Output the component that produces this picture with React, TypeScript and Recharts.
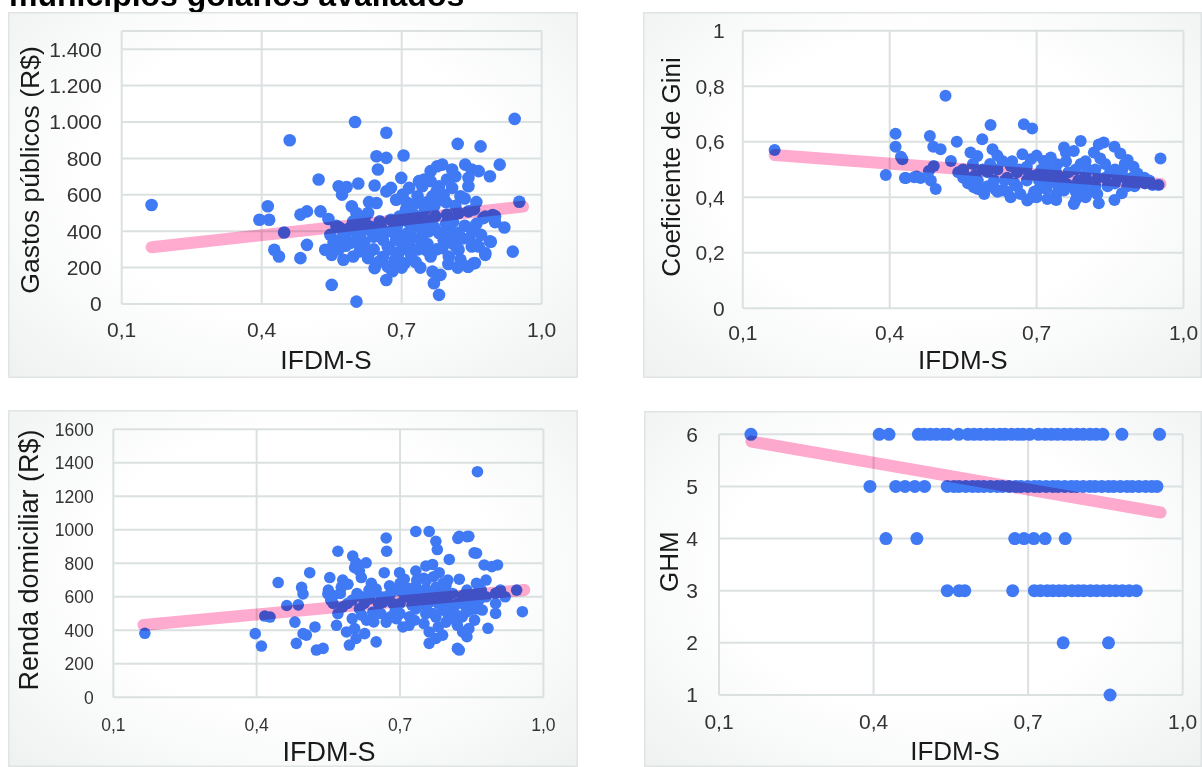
import React from "react";
import { ScatterChart, Scatter, XAxis, YAxis, CartesianGrid } from "recharts";

const FONT = "'Liberation Sans', Arial, Helvetica, sans-serif";
const DOT = "#4079f4";
const TREND = "#ffabcf";
const GRID = "#dbe1e1";

const title = "municípios goianos avaliados";
const xTitle = "IFDM-S";
const xTicks = [0.1, 0.4, 0.7, 1.0];

// Gastos públicos (R$) x IFDM-S
const gastosTicks = [0, 200, 400, 600, 800, 1000, 1200, 1400];
const gastosPontos: [number, number][] = [
  [0.164, 544], [0.46, 900], [0.6, 1000], [0.667, 941], [0.942, 1017], [0.952, 562], [0.938, 288],
  [0.82, 880], [0.869, 866], [0.91, 766], [0.646, 812], [0.667, 803], [0.704, 816], [0.649, 739],
  [0.522, 684], [0.565, 647], [0.582, 643], [0.572, 601], [0.607, 662], [0.642, 651], [0.667, 619],
  [0.677, 638], [0.699, 693], [0.702, 601], [0.716, 638], [0.737, 675], [0.762, 730], [0.776, 757],
  [0.787, 766], [0.808, 739], [0.836, 766], [0.85, 739], [0.865, 730], [0.889, 702], [0.843, 693],
  [0.808, 638], [0.826, 592], [0.762, 675], [0.744, 647], [0.78, 647], [0.766, 592], [0.78, 573],
  [0.73, 555], [0.413, 537], [0.395, 463], [0.416, 463], [0.483, 491], [0.497, 509], [0.526, 509],
  [0.543, 467], [0.448, 393], [0.593, 537], [0.603, 500], [0.646, 555], [0.628, 500], [0.596, 454],
  [0.568, 417], [0.547, 380], [0.427, 298], [0.437, 261], [0.497, 325], [0.483, 252], [0.536, 298],
  [0.554, 335], [0.568, 353], [0.589, 335], [0.55, 270], [0.575, 243], [0.596, 261], [0.61, 289],
  [0.628, 252], [0.642, 197], [0.67, 206], [0.667, 132], [0.55, 105], [0.603, 13], [0.66, 353],
  [0.67, 316], [0.688, 353], [0.692, 270], [0.706, 224], [0.716, 316], [0.723, 362], [0.713, 390],
  [0.741, 353], [0.752, 298], [0.762, 261], [0.766, 178], [0.783, 160], [0.769, 114], [0.78, 50],
  [0.787, 307], [0.801, 261], [0.808, 335], [0.822, 298], [0.826, 243], [0.843, 206], [0.854, 224],
  [0.85, 316], [0.865, 316], [0.879, 270], [0.889, 344], [0.85, 408], [0.875, 472], [0.9, 482],
  [0.822, 500], [0.843, 509], [0.797, 491], [0.772, 482], [0.751, 463], [0.723, 500], [0.702, 463],
  [0.677, 463], [0.653, 454], [0.631, 426], [0.617, 445], [0.677, 399], [0.695, 380], [0.758, 399],
  [0.78, 390], [0.801, 417], [0.822, 390], [0.734, 592], [0.748, 684], [0.797, 684], [0.815, 702],
  [0.843, 647], [0.688, 573], [0.709, 518], [0.86, 324], [0.857, 225], [0.842, 205], [0.891, 342],
  [0.879, 280], [0.853, 407], [0.879, 480], [0.895, 489], [0.58, 380], [0.6, 400], [0.62, 340],
  [0.64, 300], [0.66, 260], [0.7, 300], [0.72, 270], [0.74, 420], [0.76, 440], [0.79, 350],
  [0.81, 450], [0.83, 360], [0.69, 430], [0.71, 560], [0.75, 520], [0.77, 540], [0.79, 600],
  [0.61, 380], [0.565, 300], [0.62, 470], [0.73, 230], [0.68, 180], [0.63, 560], [0.86, 560],
  [0.9, 450], [0.92, 420], [0.56, 430], [0.59, 420], [0.615, 310], [0.635, 400], [0.655, 430],
  [0.675, 300], [0.685, 240], [0.705, 340], [0.725, 420], [0.735, 300], [0.745, 380], [0.755, 330],
  [0.77, 420], [0.775, 300], [0.795, 440], [0.805, 380], [0.815, 320], [0.835, 430], [0.845, 360],
  [0.86, 440], [0.87, 380], [0.695, 480], [0.715, 450], [0.735, 480], [0.755, 560], [0.775, 620],
  [0.795, 560], [0.815, 540], [0.835, 580], [0.855, 520], [0.63, 280], [0.65, 230], [0.7, 200],
  [0.74, 200], [0.8, 220], [0.82, 200], [0.58, 320], [0.6, 340], [0.64, 370], [0.66, 400], [0.62, 410],
];
const gastosTrend: [number, number][] = [[0.164, 312], [0.96, 535]];

// Coeficiente de Gini x IFDM-S
const giniTicks = [0, 0.2, 0.4, 0.6, 0.8, 1];
const giniPontos: [number, number][] = [
  [0.165, 0.57], [0.514, 0.766], [0.412, 0.629], [0.412, 0.582], [0.423, 0.546], [0.426, 0.537],
  [0.392, 0.48], [0.433, 0.469], [0.45, 0.472], [0.463, 0.469], [0.482, 0.621], [0.489, 0.582],
  [0.504, 0.573], [0.49, 0.513], [0.484, 0.46], [0.494, 0.43], [0.48, 0.495], [0.537, 0.6],
  [0.525, 0.531], [0.565, 0.561], [0.579, 0.549], [0.589, 0.609], [0.606, 0.66], [0.61, 0.573],
  [0.63, 0.531], [0.674, 0.663], [0.691, 0.648], [0.671, 0.555], [0.558, 0.472], [0.572, 0.436],
  [0.593, 0.412], [0.613, 0.46], [0.627, 0.424], [0.647, 0.4], [0.667, 0.412], [0.681, 0.388],
  [0.701, 0.424], [0.722, 0.394], [0.742, 0.46], [0.756, 0.424], [0.776, 0.376], [0.79, 0.603],
  [0.837, 0.597], [0.756, 0.579], [0.776, 0.567], [0.729, 0.543], [0.817, 0.561], [0.803, 0.46],
  [0.824, 0.412], [0.715, 0.531], [0.688, 0.537], [0.647, 0.513], [0.742, 0.519], [0.953, 0.54],
  [0.859, 0.582], [0.871, 0.558], [0.886, 0.534], [0.898, 0.51], [0.906, 0.486], [0.921, 0.45],
  [0.937, 0.444], [0.949, 0.444], [0.874, 0.414], [0.859, 0.39], [0.827, 0.378], [0.827, 0.59],
  [0.455, 0.475], [0.431, 0.469], [0.55, 0.5], [0.57, 0.52], [0.6, 0.49], [0.62, 0.5], [0.64, 0.47],
  [0.66, 0.49], [0.68, 0.46], [0.7, 0.48], [0.72, 0.47], [0.74, 0.49], [0.76, 0.45], [0.78, 0.5],
  [0.8, 0.48], [0.82, 0.44], [0.84, 0.47], [0.86, 0.45], [0.88, 0.47], [0.9, 0.44], [0.78, 0.42],
  [0.8, 0.4], [0.7, 0.4], [0.72, 0.43], [0.66, 0.44], [0.6, 0.44], [0.58, 0.46], [0.62, 0.55],
  [0.7, 0.55], [0.76, 0.53], [0.8, 0.53], [0.84, 0.52], [0.86, 0.5], [0.74, 0.41], [0.64, 0.42],
  [0.54, 0.49], [0.68, 0.51], [0.76, 0.56], [0.88, 0.52], [0.92, 0.47], [0.82, 0.5], [0.72, 0.51],
  [0.56, 0.45], [0.575, 0.48], [0.59, 0.5], [0.605, 0.52], [0.615, 0.43], [0.635, 0.46], [0.65, 0.53],
  [0.655, 0.45], [0.665, 0.5], [0.685, 0.48], [0.695, 0.42], [0.705, 0.46], [0.71, 0.5], [0.725, 0.45],
  [0.735, 0.5], [0.745, 0.43], [0.75, 0.47], [0.765, 0.49], [0.77, 0.44], [0.785, 0.46], [0.79, 0.52],
  [0.795, 0.43], [0.805, 0.5], [0.81, 0.42], [0.825, 0.47], [0.83, 0.54], [0.845, 0.44], [0.85, 0.49],
  [0.865, 0.47], [0.875, 0.5], [0.885, 0.44], [0.895, 0.47], [0.91, 0.46], [0.93, 0.46], [0.78, 0.39],
  [0.74, 0.39], [0.69, 0.4], [0.62, 0.42], [0.58, 0.43], [0.55, 0.47],
];
const giniTrend: [number, number][] = [[0.165, 0.552], [0.953, 0.448]];

// Renda domiciliar (R$) x IFDM-S
const rendaTicks = [0, 200, 400, 600, 800, 1000, 1200, 1400, 1600];
const rendaPontos: [number, number][] = [
  [0.166, 382], [0.862, 1347], [0.84, 959], [0.821, 949], [0.86, 860], [0.876, 790], [0.892, 780],
  [0.904, 790], [0.88, 700], [0.9, 621], [0.92, 600], [0.944, 640], [0.956, 511], [0.9, 501],
  [0.884, 412], [0.824, 282], [0.84, 362], [0.856, 461], [0.872, 521], [0.445, 685], [0.397, 380],
  [0.41, 306], [0.417, 485], [0.428, 479], [0.463, 548], [0.487, 552], [0.494, 656], [0.497, 617],
  [0.511, 744], [0.553, 715], [0.48, 449], [0.497, 380], [0.522, 420], [0.483, 322], [0.504, 371],
  [0.525, 282], [0.539, 292], [0.549, 617], [0.56, 607], [0.577, 656], [0.567, 430], [0.57, 872],
  [0.601, 843], [0.608, 803], [0.615, 754], [0.629, 803], [0.605, 774], [0.619, 715], [0.591, 675],
  [0.588, 390], [0.605, 410], [0.594, 312], [0.608, 351], [0.626, 380], [0.65, 331], [0.671, 951],
  [0.672, 872], [0.667, 744], [0.65, 646], [0.678, 666], [0.636, 587], [0.664, 567], [0.615, 528],
  [0.643, 508], [0.671, 449], [0.692, 469], [0.706, 420], [0.719, 430], [0.699, 744], [0.709, 705],
  [0.733, 990], [0.761, 990], [0.775, 931], [0.778, 882], [0.733, 754], [0.754, 784], [0.768, 793],
  [0.782, 744], [0.803, 823], [0.824, 961], [0.844, 961], [0.855, 862], [0.824, 705], [0.796, 666],
  [0.775, 656], [0.733, 666], [0.754, 646], [0.706, 626], [0.723, 587], [0.761, 567], [0.789, 587],
  [0.81, 548], [0.831, 607], [0.851, 587], [0.733, 528], [0.754, 499], [0.775, 479], [0.796, 449],
  [0.817, 459], [0.761, 390], [0.775, 351], [0.789, 371], [0.761, 322], [0.82, 292], [0.831, 390],
  [0.844, 410], [0.838, 508], [0.858, 528], [0.56, 560], [0.58, 540], [0.6, 580], [0.62, 600],
  [0.64, 620], [0.66, 600], [0.68, 620], [0.7, 560], [0.72, 650], [0.74, 610], [0.76, 620],
  [0.78, 560], [0.8, 600], [0.82, 560], [0.84, 640], [0.86, 620], [0.88, 600], [0.57, 500],
  [0.6, 470], [0.63, 460], [0.66, 500], [0.69, 520], [0.72, 480], [0.75, 440], [0.78, 420],
  [0.8, 500], [0.82, 430], [0.55, 640], [0.58, 700], [0.64, 680], [0.7, 680], [0.75, 710],
  [0.8, 700], [0.86, 680], [0.9, 560], [0.91, 640], [0.555, 580], [0.575, 620], [0.59, 560],
  [0.61, 620], [0.625, 560], [0.635, 640], [0.655, 560], [0.67, 600], [0.685, 560], [0.695, 640],
  [0.71, 600], [0.725, 550], [0.735, 620], [0.745, 580], [0.755, 540], [0.765, 600], [0.785, 620],
  [0.795, 560], [0.81, 620], [0.815, 500], [0.83, 560], [0.845, 520], [0.85, 600], [0.865, 580],
  [0.87, 640], [0.735, 700], [0.755, 700], [0.77, 720], [0.79, 680], [0.62, 490], [0.645, 450],
  [0.68, 480], [0.7, 500], [0.73, 460], [0.77, 500], [0.79, 520], [0.81, 470], [0.83, 480],
  [0.85, 560], [0.72, 600],
];
const rendaTrend: [number, number][] = [[0.163, 432], [0.96, 641]];

// GHM x IFDM-S (one list of IFDM-S values per GHM level)
const ghmTicks = [1, 2, 3, 4, 5, 6];
const ghm6 = [0.162, 0.411, 0.43, 0.487, 0.498, 0.51, 0.522, 0.535, 0.545, 0.565, 0.583, 0.595, 0.607,
  0.62, 0.632, 0.645, 0.655, 0.668, 0.68, 0.69, 0.703, 0.72, 0.733, 0.745, 0.757, 0.77, 0.782, 0.795,
  0.807, 0.82, 0.832, 0.845, 0.882, 0.955];
const ghm5 = [0.393, 0.443, 0.461, 0.48, 0.499, 0.543, 0.556, 0.566, 0.579, 0.592, 0.603, 0.614, 0.627,
  0.64, 0.65, 0.663, 0.676, 0.686, 0.699, 0.712, 0.722, 0.735, 0.748, 0.758, 0.771, 0.784, 0.794,
  0.807, 0.82, 0.83, 0.843, 0.856, 0.866, 0.879, 0.892, 0.902, 0.915, 0.928, 0.94, 0.95];
const ghm4 = [0.424, 0.484, 0.674, 0.692, 0.711, 0.733, 0.772];
const ghm3 = [0.543, 0.566, 0.577, 0.67, 0.712, 0.724, 0.737, 0.748, 0.76, 0.771, 0.785, 0.797, 0.808,
  0.821, 0.833, 0.846, 0.858, 0.87, 0.883, 0.896, 0.91];
const ghm2 = [0.768, 0.856];
const ghm1 = [0.859];
const ghmTrend: [number, number][] = [[0.163, 5.86], [0.957, 4.5]];

const toXY = (pts: [number, number][]) => pts.map(([x, y]) => ({ x, y }));
const ghmPontos: [number, number][] = [
  ...ghm6.map((x) => [x, 6] as [number, number]),
  ...ghm5.map((x) => [x, 5] as [number, number]),
  ...ghm4.map((x) => [x, 4] as [number, number]),
  ...ghm3.map((x) => [x, 3] as [number, number]),
  ...ghm2.map((x) => [x, 2] as [number, number]),
  ...ghm1.map((x) => [x, 1] as [number, number]),
];

const fmtDec = (v: number) => v.toFixed(1).replace(".", ",");
const fmtThousand = (v: number) =>
  v >= 1000 ? `${Math.floor(v / 1000)}.${String(v % 1000).padStart(3, "0")}` : String(v);
const fmtGini = (v: number) => (v === 0 ? "0" : v === 1 ? "1" : fmtDec(v));

function AxisTick(props: any) {
  const { x, y, payload, fmt, size, sx = 1, axis } = props;
  const isY = axis === "y";
  return (
    <g transform={`translate(${x},${y}) scale(${sx},1)`}>
      <text
        x={0}
        y={0}
        dy={isY ? "0.355em" : "0.71em"}
        textAnchor={isY ? "end" : "middle"}
        fontFamily={FONT}
        fontSize={size}
        fill="#333"
      >
        {fmt(payload.value)}
      </text>
    </g>
  );
}

type PanelProps = {
  box: { left: number; top: number; width: number; height: number };
  margin: { top: number; right: number };
  yWidth: number;
  xHeight: number;
  yTickMargin: number;
  xTickMargin: number;
  tickSize: number;
  tickSx?: number;
  titleSize: number;
  yTitle: string;
  yTitlePos: [number, number];
  xTitlePos: [number, number];
  yDomain: [number, number];
  yTicks: number[];
  yFmt: (v: number) => string;
  points: [number, number][];
  trend: [number, number][];
  r: number;
};

function Panel(p: PanelProps) {
  const dot = (s: any) => <circle cx={s.cx} cy={s.cy} r={p.r} fill={DOT} />;
  return (
    <div
      style={{
        position: "absolute",
        left: p.box.left,
        top: p.box.top,
        width: p.box.width,
        height: p.box.height,
        background: "radial-gradient(ellipse at 50% 45%, #ffffff 50%, #eff1f1 100%)",
        boxShadow: "inset 0 0 0 1.5px #e0e4e4",
      }}
    >
      <ScatterChart
        width={p.box.width}
        height={p.box.height}
        margin={{ top: p.margin.top, right: p.margin.right, left: 0, bottom: 0 }}
      >
        <CartesianGrid stroke={GRID} strokeWidth={2} />
        <XAxis
          type="number"
          dataKey="x"
          domain={[0.1, 1]}
          ticks={xTicks}
          interval={0}
          height={p.xHeight}
          axisLine={false}
          tickLine={false}
          tickSize={6}
          tickMargin={p.xTickMargin}
          tick={(t: any) => <AxisTick {...t} fmt={fmtDec} size={p.tickSize} sx={p.tickSx} axis="x" />}
          label={{
            content: () => (
              <text
                x={p.xTitlePos[0]}
                y={p.xTitlePos[1]}
                dy="0.355em"
                textAnchor="middle"
                fontFamily={FONT}
                fontSize={p.titleSize}
                fill="#1a1a1a"
              >
                {xTitle}
              </text>
            ),
          }}
        />
        <YAxis
          type="number"
          dataKey="y"
          domain={p.yDomain}
          ticks={p.yTicks}
          interval={0}
          width={p.yWidth}
          axisLine={false}
          tickLine={false}
          tickSize={6}
          tickMargin={p.yTickMargin}
          tick={(t: any) => <AxisTick {...t} fmt={p.yFmt} size={p.tickSize} sx={p.tickSx} axis="y" />}
          label={{
            content: () => (
              <text
                transform={`translate(${p.yTitlePos[0]},${p.yTitlePos[1]}) rotate(-90)`}
                dy="0.355em"
                textAnchor="middle"
                fontFamily={FONT}
                fontSize={p.titleSize}
                fill="#1a1a1a"
              >
                {p.yTitle}
              </text>
            ),
          }}
        />
        <Scatter data={toXY(p.points)} shape={dot} isAnimationActive={false} />
        <Scatter
          data={toXY(p.trend)}
          className="trend"
          shape={() => <g />}
          line={{ stroke: TREND, strokeWidth: 12, strokeLinecap: "round" }}
          isAnimationActive={false}
        />
      </ScatterChart>
    </div>
  );
}

export default function App() {
  return (
    <div
      style={{
        position: "absolute",
        left: 0,
        top: 0,
        width: 1202,
        height: 767,
        overflow: "hidden",
        background: "#fff",
        fontFamily: FONT,
      }}
    >
      <style>{`.trend path { mix-blend-mode: multiply; }`}</style>
      <div
        style={{
          position: "absolute",
          left: 9,
          top: -21,
          fontSize: 32,
          lineHeight: "32px",
          fontWeight: "bold",
          color: "#000",
          whiteSpace: "nowrap",
        }}
      >
        {title}
      </div>
      <Panel
        box={{ left: 8, top: 12, width: 570, height: 366 }}
        margin={{ top: 19, right: 36.3 }}
        yWidth={113.7}
        xHeight={74}
        yTickMargin={14}
        xTickMargin={12.5}
        tickSize={21}
        titleSize={26.5}
        yTitle="Gastos públicos (R$)"
        yTitlePos={[22, 158]}
        xTitlePos={[318, 348]}
        yDomain={[0, 1500]}
        yTicks={gastosTicks}
        yFmt={fmtThousand}
        points={gastosPontos}
        trend={gastosTrend}
        r={6.3}
      />
      <Panel
        box={{ left: 643, top: 12, width: 559, height: 366 }}
        margin={{ top: 18.7, right: 18.5 }}
        yWidth={99.8}
        xHeight={69.7}
        yTickMargin={12}
        xTickMargin={11.2}
        tickSize={21}
        titleSize={26}
        yTitle="Coeficiente de Gini"
        yTitlePos={[28, 155]}
        xTitlePos={[319.8, 348]}
        yDomain={[0, 1]}
        yTicks={giniTicks}
        yFmt={fmtGini}
        points={giniPontos}
        trend={giniTrend}
        r={6}
      />
      <Panel
        box={{ left: 8, top: 410, width: 570, height: 357 }}
        margin={{ top: 19.3, right: 34.6 }}
        yWidth={105.3}
        xHeight={69.7}
        yTickMargin={13.5}
        xTickMargin={15.6}
        tickSize={17.5}
        titleSize={27}
        yTitle="Renda domiciliar (R$)"
        yTitlePos={[20.7, 150]}
        xTitlePos={[321, 341.7]}
        yDomain={[0, 1600]}
        yTicks={rendaTicks}
        yFmt={(v: number) => String(v)}
        points={rendaPontos}
        trend={rendaTrend}
        r={5.8}
      />
      <Panel
        box={{ left: 644, top: 411, width: 558, height: 356 }}
        margin={{ top: 23.3, right: 19.3 }}
        yWidth={75}
        xHeight={72}
        yTickMargin={15}
        xTickMargin={13.2}
        tickSize={21}
        titleSize={26}
        yTitle="GHM"
        yTitlePos={[25, 150.7]}
        xTitlePos={[311, 339.7]}
        yDomain={[1, 6]}
        yTicks={ghmTicks}
        yFmt={(v: number) => String(v)}
        points={ghmPontos}
        trend={ghmTrend}
        r={6.5}
      />
    </div>
  );
}
